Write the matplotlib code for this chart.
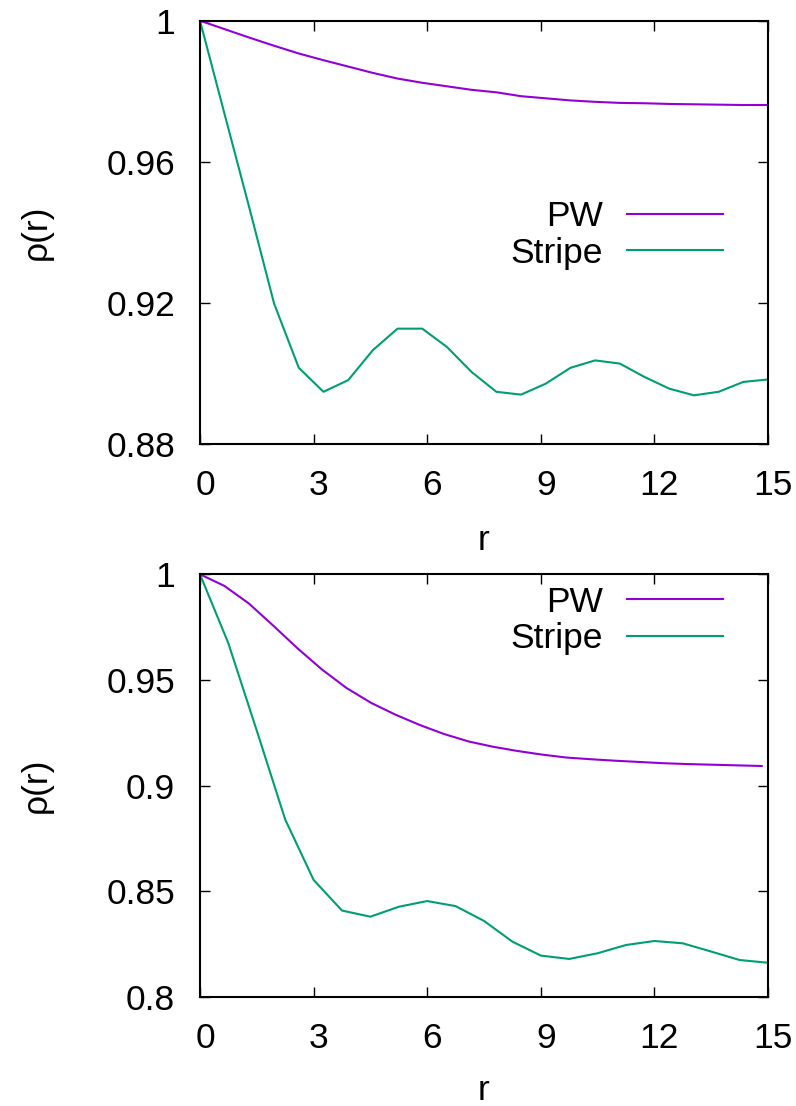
import matplotlib
matplotlib.use("Agg")
import matplotlib.pyplot as plt
import matplotlib.transforms as mtransforms

plt.rcParams["font.family"] = ["Liberation Sans", "DejaVu Sans"]

# top panel
r_top = [0.0, 0.652, 1.304, 1.957, 2.609, 3.261, 3.913, 4.565, 5.217, 5.870,
         6.522, 7.174, 7.826, 8.478, 9.130, 9.783, 10.435, 11.087, 11.739,
         12.391, 13.043, 13.696, 14.348, 15.0]
pw_top = [1.0, 0.9976, 0.9952, 0.9929, 0.9907, 0.9888, 0.9870, 0.9852, 0.9836,
          0.9824, 0.9814, 0.9804, 0.9797, 0.9786, 0.9780, 0.9774, 0.9770, 0.9767,
          0.9766, 0.9764, 0.9763, 0.9762, 0.9761, 0.9761]
stripe_top = [1.0, 0.9734, 0.9469, 0.9198, 0.9016, 0.8948, 0.8981, 0.9066, 0.9127,
              0.9127, 0.9075, 0.9004, 0.8948, 0.8940, 0.8971, 0.9016, 0.9037,
              0.9028, 0.8990, 0.8957, 0.8938, 0.8948, 0.8976, 0.8983]

# bottom panel
r_pw_bot = [0.0, 0.645, 1.29, 1.935, 2.58, 3.225, 3.87, 4.515, 5.16, 5.805,
            6.45, 7.095, 7.74, 8.385, 9.03, 9.675, 10.32, 10.965, 11.61,
            12.255, 12.9, 13.545, 14.19, 14.835]
pw_bot = [1.0, 0.9945, 0.9862, 0.9757, 0.9649, 0.9549, 0.9462, 0.9392, 0.9336,
          0.9287, 0.9244, 0.9209, 0.9184, 0.9164, 0.9147, 0.9133, 0.9125,
          0.9118, 0.9112, 0.9106, 0.9102, 0.9099, 0.9096, 0.9093]
r_stripe_bot = [0.0, 0.75, 1.5, 2.25, 3.0, 3.75, 4.5, 5.25, 6.0, 6.75, 7.5,
                8.25, 9.0, 9.75, 10.5, 11.25, 12.0, 12.75, 13.5, 14.25, 15.0]
stripe_bot = [1.0, 0.9673, 0.926, 0.884, 0.8554, 0.8409, 0.8380, 0.8427, 0.8454,
              0.8430, 0.836, 0.8262, 0.8196, 0.8180, 0.8207, 0.8246, 0.8265,
              0.8254, 0.8215, 0.8175, 0.8162]

xticks = [0, 3, 6, 9, 12, 15]
yticks_top = [0.88, 0.92, 0.96, 1.0]
ylabels_top = ["0.88", "0.92", "0.96", "1"]
yticks_bot = [0.8, 0.85, 0.9, 0.95, 1.0]
ylabels_bot = ["0.8", "0.85", "0.9", "0.95", "1"]

PW_COLOR = "#9400d3"
STRIPE_COLOR = "#009e73"
FS = 25.5

fig = plt.figure(figsize=(7.96, 11.06), dpi=100)
ax1 = fig.add_axes([200 / 796, 1 - 444 / 1106, 568 / 796, 423.3 / 1106])
ax2 = fig.add_axes([200 / 796, 1 - 997 / 1106, 568 / 796, 422.7 / 1106])

# gnuplot puts the x tick labels a few pixels right of the tick
shift = mtransforms.ScaledTranslation(5 / 100, 0, fig.dpi_scale_trans)


def style(ax, yticks, ylabels, ylim, legend_y):
    ax.set_xlim(0, 15)
    ax.set_ylim(*ylim)
    ax.set_xticks(xticks)
    ax.set_xticklabels([str(t) for t in xticks])
    ax.set_yticks(yticks)
    ax.set_yticklabels(ylabels)
    ax.tick_params(direction="in", length=7, width=1.0, pad=18,
                   labelsize=FS, top=True, right=True)
    for lbl in ax.get_xticklabels():
        lbl.set_transform(lbl.get_transform() + shift)
    for sp in ax.spines.values():
        sp.set_linewidth(1.5)
    ax.set_xlabel("r", fontsize=FS, va="baseline")
    ax.set_ylabel("ρ(r)", fontsize=FS, va="center")
    ax.yaxis.set_label_coords(-0.289, 0.5)
    ax.legend(loc="center right", bbox_to_anchor=(0.9208, legend_y),
              frameon=False, fontsize=FS, markerfirst=False,
              handlelength=2.7, handletextpad=0.68, labelspacing=0.1,
              borderpad=0, borderaxespad=0)


ax1.plot(r_top, pw_top, color=PW_COLOR, lw=1.5, label="PW")
ax1.plot(r_top, stripe_top, color=STRIPE_COLOR, lw=1.5, label="Stripe")
style(ax1, yticks_top, ylabels_top, (0.88, 1.0), 0.494)
ax1.xaxis.set_label_coords(0.5, -0.2504)

ax2.plot(r_pw_bot, pw_bot, color=PW_COLOR, lw=1.5, label="PW")
ax2.plot(r_stripe_bot, stripe_bot, color=STRIPE_COLOR, lw=1.5, label="Stripe")
style(ax2, yticks_bot, ylabels_bot, (0.8, 1.0), 0.8907)
ax2.xaxis.set_label_coords(0.5, -0.2437)

fig.savefig("out.png", dpi=100)
